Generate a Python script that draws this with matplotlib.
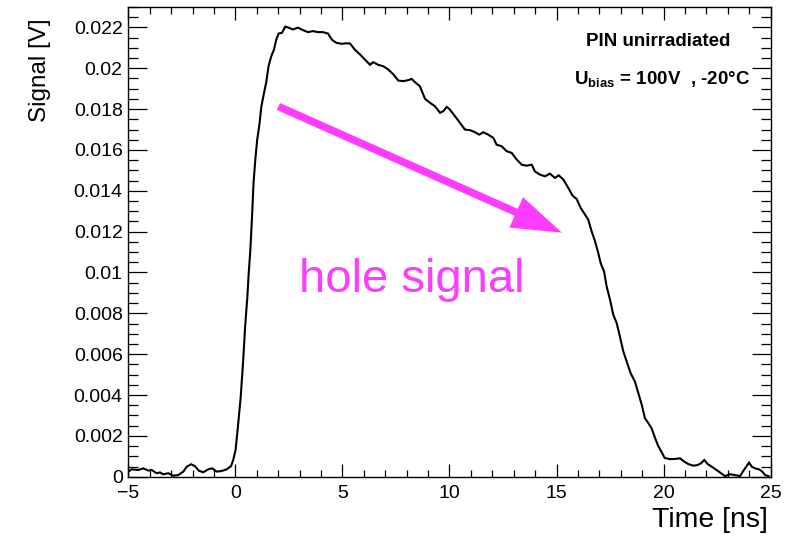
import matplotlib
matplotlib.use("Agg")
import matplotlib.pyplot as plt
from matplotlib.patches import FancyArrowPatch
from matplotlib.ticker import MultipleLocator, FixedLocator

plt.rcParams['font.family'] = ['Liberation Sans', 'DejaVu Sans']
plt.rcParams['mathtext.fontset'] = 'custom'
plt.rcParams['mathtext.rm'] = 'Liberation Sans'
plt.rcParams['mathtext.bf'] = 'Liberation Sans:bold'

# Waveform: time [ns] and signal [V]
time_ns = [
    -5.00, -4.84, -4.53, -4.30, -4.07, -3.91, -3.68, -3.52, -3.37, -3.13,
    -2.90, -2.67, -2.43, -2.27, -2.07, -1.89, -1.70, -1.50, -1.27, -1.08,
    -0.87, -0.64, -0.41, -0.20, -0.10, 0.01, 0.12, 0.25, 0.36, 0.46,
    0.56, 0.62, 0.70, 0.78, 0.85, 0.93, 1.02, 1.13, 1.21, 1.34,
    1.44, 1.55, 1.68, 1.80, 1.91, 2.02, 2.18, 2.33, 2.49, 2.69,
    2.92, 3.16, 3.39, 3.62, 3.86, 4.09, 4.33, 4.51, 4.71, 4.95,
    5.15, 5.35, 5.59, 5.82, 6.05, 6.29, 6.44, 6.67, 6.91, 7.14,
    7.38, 7.61, 7.84, 8.08, 8.23, 8.39, 8.62, 8.86, 9.09, 9.32,
    9.56, 9.71, 9.87, 10.02, 10.26, 10.49, 10.72, 10.96, 11.19, 11.39,
    11.58, 11.81, 12.05, 12.20, 12.44, 12.67, 12.90, 13.14, 13.37, 13.60,
    13.84, 13.99, 14.23, 14.46, 14.69, 14.93, 15.10, 15.32, 15.55, 15.75,
    15.94, 16.13, 16.33, 16.48, 16.64, 16.80, 16.95, 17.06, 17.22, 17.34,
    17.50, 17.65, 17.81, 17.96, 18.12, 18.30, 18.46, 18.66, 18.82, 18.98,
    19.13, 19.29, 19.44, 19.60, 19.75, 19.91, 20.05, 20.30, 20.53, 20.77,
    20.92, 21.15, 21.39, 21.59, 21.75, 21.90, 22.06, 22.25, 22.43, 22.64,
    22.87, 23.10, 23.33, 23.57, 23.72, 23.88, 23.99, 24.12, 24.27, 24.46,
    24.61, 24.74, 24.90,
]
signal_v = [
    0.00025, 0.00036, 0.00033, 0.00041, 0.00030, 0.00033, 0.00017, 0.00021, 0.00012, 0.00017,
    0.00005, 0.00008, 0.00025, 0.00049, 0.00061, 0.00052, 0.00029, 0.00022, 0.00036, 0.00041,
    0.00025, 0.00028, 0.00036, 0.00052, 0.00082, 0.00130, 0.00245, 0.00390, 0.00560, 0.00740,
    0.00880, 0.00990, 0.01110, 0.01275, 0.01440, 0.01550, 0.01650, 0.01730, 0.01810, 0.01880,
    0.01930, 0.02010, 0.02060, 0.02090, 0.02140, 0.02170, 0.02174, 0.02204, 0.02199, 0.02190,
    0.02199, 0.02187, 0.02177, 0.02182, 0.02177, 0.02177, 0.02170, 0.02140, 0.02125, 0.02120,
    0.02122, 0.02122, 0.02090, 0.02068, 0.02043, 0.02017, 0.02030, 0.02017, 0.02010, 0.01994,
    0.01970, 0.01940, 0.01937, 0.01942, 0.01948, 0.01932, 0.01912, 0.01850, 0.01831, 0.01814,
    0.01782, 0.01790, 0.01811, 0.01798, 0.01765, 0.01733, 0.01700, 0.01697, 0.01687, 0.01675,
    0.01687, 0.01675, 0.01659, 0.01626, 0.01618, 0.01594, 0.01586, 0.01553, 0.01528, 0.01523,
    0.01528, 0.01495, 0.01479, 0.01471, 0.01484, 0.01463, 0.01476, 0.01455, 0.01414, 0.01376,
    0.01360, 0.01316, 0.01283, 0.01259, 0.01201, 0.01152, 0.01095, 0.01046, 0.01005, 0.00932,
    0.00866, 0.00793, 0.00752, 0.00686, 0.00613, 0.00556, 0.00507, 0.00466, 0.00409, 0.00352,
    0.00286, 0.00262, 0.00237, 0.00190, 0.00150, 0.00120, 0.00092, 0.00086, 0.00087, 0.00090,
    0.00077, 0.00062, 0.00054, 0.00057, 0.00066, 0.00082, 0.00062, 0.00049, 0.00036, 0.00020,
    0.00003, 0.00012, 0.00008, 0.00003, 0.00028, 0.00052, 0.00069, 0.00049, 0.00041, 0.00036,
    0.00025, 0.00008, 0.00003,
]

y_ticks = [0, 0.002, 0.004, 0.006, 0.008, 0.01, 0.012, 0.014, 0.016, 0.018, 0.02, 0.022]
y_tick_labels = ["0", "0.002", "0.004", "0.006", "0.008", "0.01", "0.012",
                 "0.014", "0.016", "0.018", "0.02", "0.022"]
x_ticks = [-5, 0, 5, 10, 15, 20, 25]
x_tick_labels = ["\u22125", "0", "5", "10", "15", "20", "25"]

magenta = "#fd3cfd"

fig = plt.figure(figsize=(7.88, 5.40), dpi=100)
ax = fig.add_axes([0.1628, 0.1172, 0.8152, 0.8698])

ax.plot(time_ns, signal_v, color="black", lw=1.5, solid_joinstyle="miter")

ax.set_xlim(-5, 25)
ax.set_ylim(0, 0.023)

ax.xaxis.set_major_locator(FixedLocator(x_ticks))
ax.set_xticklabels(x_tick_labels)
ax.xaxis.set_minor_locator(MultipleLocator(1))
ax.yaxis.set_major_locator(FixedLocator(y_ticks))
ax.set_yticklabels(y_tick_labels)
ax.yaxis.set_minor_locator(MultipleLocator(0.0005))

ax.tick_params(which="both", direction="in", top=True, right=True,
               labelsize=14, color="black", width=0.9)
ax.tick_params(axis="x", which="major", length=9.5, pad=6)
ax.tick_params(axis="x", which="minor", length=5)
ax.tick_params(axis="y", which="major", length=13.5, pad=4)
ax.tick_params(axis="y", which="minor", length=7)
for s in ax.spines.values():
    s.set_linewidth(1.0)

# Axis titles, right/top aligned
fig.text(768 / 788, 1 - 520 / 540, "Time [ns]", fontsize=20.5,
         ha="right", va="center")
fig.text(40 / 788, 1 - 18 / 540, "Signal [V]", fontsize=17.5,
         rotation=90, ha="center", va="top")

# Annotation arrow and label
arrow = FancyArrowPatch((2.01, 0.01813), (15.25, 0.01195),
                        arrowstyle="simple,head_length=36,head_width=24,tail_width=5.5",
                        mutation_scale=1, color=magenta, lw=0,
                        shrinkA=0, shrinkB=0)
ax.add_patch(arrow)
ax.text(2.98, 0.00906, "hole signal", color=magenta, fontsize=34,
        ha="left", va="baseline")

# Run conditions
ax.text(0.8245, 0.917, "PIN unirradiated", transform=ax.transAxes,
        fontsize=13.5, fontweight="bold", ha="center", va="baseline")
ax.text(0.831, 0.834, r"$\mathbf{U}_{\mathbf{bias}}$ = 100V  , -20°C", transform=ax.transAxes,
        fontsize=13.5, fontweight="bold", ha="center", va="baseline")

fig.savefig("out.png", dpi=100)
